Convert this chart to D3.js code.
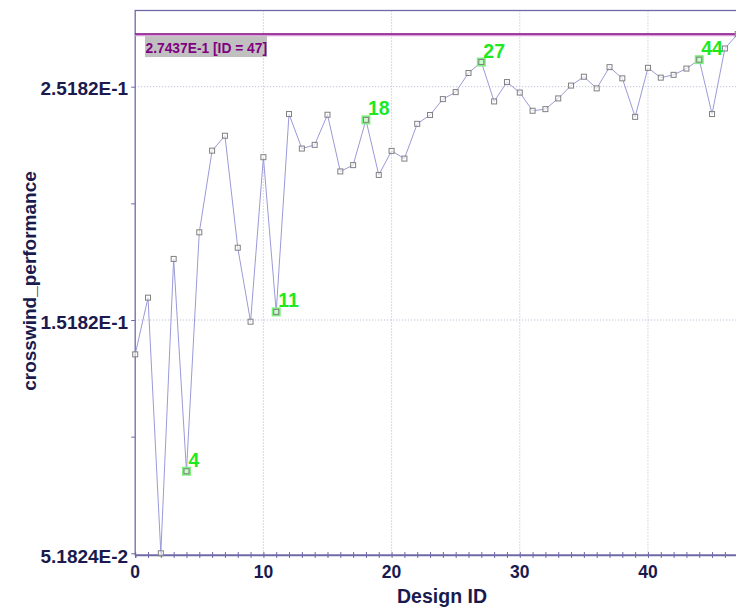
<!DOCTYPE html>
<html><head><meta charset="utf-8">
<script src="https://cdn.jsdelivr.net/npm/d3@7"></script>
<style>body{margin:0;background:#fff;}svg{display:block;font-family:"Liberation Sans",Arial,sans-serif;}</style>
</head><body><svg id="c" width="736" height="610"></svg>
<script>
const designIds = d3.range(0, 48);
const performance = [0.1371,0.1614,0.051824,0.1780,0.0870,0.1894,0.2244,0.2308,0.1828,0.1511,
0.2216,0.1553,0.2401,0.2253,0.2269,0.2398,0.2155,0.2182,0.2376,0.2140,
0.2243,0.2210,0.2359,0.2397,0.2465,0.2495,0.2577,0.2624,0.2455,0.2538,
0.2493,0.2415,0.2422,0.2468,0.2523,0.2561,0.2511,0.2602,0.2554,0.2389,
0.2599,0.2557,0.2569,0.2596,0.2634,0.2401,0.2682,0.27437];
const highlighted = [4, 11, 18, 27, 44];
const xTicks = [0, 10, 20, 30, 40];
const yTicks = [0.051824, 0.15182, 0.25182];
const yTickLabels = ["5.1824E-2", "1.5182E-1", "2.5182E-1"];
const maxLabel = "2.7437E-1 [ID = 47]";

const svg = d3.select("#c");
const L = 135.2, R = 737.7, T = 10.5, B = 555;
const x = d3.scaleLinear().domain([0, 47]).range([L, R]);
const y = d3.scaleLinear().domain([0.051824, 0.28448]).range([553.3, T]);
const navy = "#1a1a4e";
const frame = "#6e6aa8";

// gridlines
svg.append("g").selectAll("line").data(xTicks.slice(1)).join("line")
  .attr("x1", d => x(d)).attr("x2", d => x(d)).attr("y1", T).attr("y2", B)
  .attr("stroke", "#b4b4d4").attr("stroke-dasharray", "1,2");
svg.append("g").selectAll("line").data(yTicks.slice(1)).join("line")
  .attr("x1", L).attr("x2", R).attr("y1", d => y(d)).attr("y2", d => y(d))
  .attr("stroke", "#b4b4d4").attr("stroke-dasharray", "1,2");

// frame
svg.append("rect").attr("x", L).attr("y", T).attr("width", R - L + 5).attr("height", B - T)
  .attr("fill", "none").attr("stroke", frame).attr("stroke-width", 1.3);

// max line
const maxV = d3.max(performance);
svg.append("line").attr("x1", L).attr("x2", R).attr("y1", y(maxV) + 1.5).attr("y2", y(maxV) + 1.5)
  .attr("stroke", "#d9a0d9").attr("stroke-width", 1.5);
svg.append("line").attr("x1", L).attr("x2", R).attr("y1", y(maxV)).attr("y2", y(maxV))
  .attr("stroke", "#800080").attr("stroke-width", 1.5);
svg.append("rect").attr("x", 145).attr("y", y(maxV) + 2).attr("width", 122).attr("height", 21)
  .attr("fill", "#c0c0c0");
svg.append("text").attr("x", 145.5).attr("y", y(maxV) + 19).attr("fill", "#800080")
  .attr("font-size", 13.8).attr("font-weight", "bold").text(maxLabel);

// axes
const xAxis = d3.axisBottom(x).tickValues(d3.range(0, 48)).tickSize(3).tickFormat("");
const gx = svg.append("g").attr("transform", `translate(0,${B})`).call(xAxis);
gx.selectAll(".tick line").attr("stroke", frame).attr("y1", -3);
gx.select(".domain").attr("stroke", frame).attr("stroke-width", 1.3);
svg.append("g").selectAll("text").data(xTicks).join("text")
  .attr("x", d => x(d)).attr("y", 578).attr("text-anchor", "middle")
  .attr("fill", navy).attr("font-size", 17.5).attr("font-weight", "bold").text(d => d);

const yAxis = d3.axisLeft(y).tickValues([0.051824, 0.101824, 0.15182, 0.20182, 0.25182]).tickSize(4).tickFormat("");
const gy = svg.append("g").attr("transform", `translate(${L},0)`).call(yAxis);
gy.selectAll(".tick line").attr("stroke", frame);
gy.select(".domain").attr("stroke", "none");
svg.append("g").selectAll("text").data(yTicks).join("text")
  .attr("x", L - 7).attr("y", (d, i) => i === 0 ? 563 : y(d) + 8.5).attr("text-anchor", "end")
  .attr("fill", navy).attr("font-weight", "bold")
  .attr("font-size", 19)
  .text((d, i) => yTickLabels[i]);

svg.append("text").attr("x", 442).attr("y", 603).attr("text-anchor", "middle")
  .attr("fill", navy).attr("font-size", 19.5).attr("font-weight", "bold").text("Design ID");
svg.append("text").attr("transform", "translate(36,281) rotate(-90)").attr("text-anchor", "middle")
  .attr("fill", navy).attr("font-size", 19).attr("font-weight", "bold").text("crosswind_performance");

// line
const line = d3.line().x((d, i) => x(designIds[i])).y(d => y(d));
svg.append("path").datum(performance).attr("d", line).attr("fill", "none")
  .attr("stroke", "#9a9ad8").attr("stroke-width", 1);

// highlight backgrounds
svg.append("g").selectAll("rect").data(highlighted).join("rect")
  .attr("x", d => x(d) - 4.5).attr("y", d => y(performance[d]) - 4.5).attr("width", 9).attr("height", 9)
  .attr("fill", "#7cf07c");
// markers
svg.append("g").selectAll("rect").data(designIds).join("rect")
  .attr("x", d => x(d) - 2.5).attr("y", d => y(performance[d]) - 2.5).attr("width", 5).attr("height", 5)
  .attr("fill", "#fff").attr("fill-opacity", 0.6).attr("stroke", "#808080").attr("stroke-width", 1);
// labels
svg.append("g").selectAll("text").data(highlighted).join("text")
  .attr("x", d => x(d) + 2).attr("y", d => y(performance[d]) - 4.5)
  .attr("fill", "#1ee81e").attr("font-size", 19.5).attr("font-weight", "bold").text(d => d);
</script></body></html>
